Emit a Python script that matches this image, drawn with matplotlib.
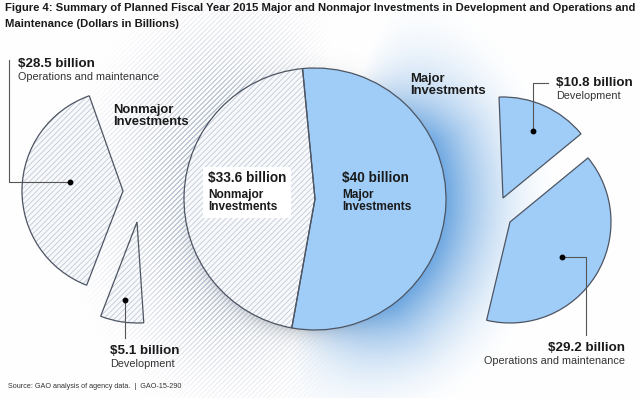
import numpy as np
import matplotlib
matplotlib.use("Agg")
import matplotlib.pyplot as plt
from matplotlib.patches import Wedge, Rectangle

# data (billions of dollars)
groups = ["Nonmajor\nInvestments", "Major\nInvestments"]
group_totals = [33.6, 40.0]
nonmajor_labels = ["Operations and maintenance", "Development"]
nonmajor_values = [28.5, 5.1]
major_labels = ["Development", "Operations and maintenance"]
major_values = [10.8, 29.2]

TITLE = ("Figure 4: Summary of Planned Fiscal Year 2015 Major and Nonmajor Investments in Development and Operations and\n"
         "Maintenance (Dollars in Billions)")
SOURCE = "Source: GAO analysis of agency data.  |  GAO-15-290"

W, H = 640, 398
BLUE = "#9fcdf8"
EDGE = "#4d5563"
HATCH_BG = "#f8f9fb"
HATCH_COL = "#bcc5d6"
plt.rcParams["hatch.linewidth"] = 0.55
plt.rcParams["font.family"] = ["Liberation Sans", "DejaVu Sans"]

fig = plt.figure(figsize=(W / 100, H / 100), dpi=100)
ax = fig.add_axes([0, 0, 1, 1])
ax.set_xlim(0, W)
ax.set_ylim(H, 0)
ax.axis("off")

total = sum(group_totals)


def span(v):
    return v / total * 360.0


def wedge(center, r, a1, a2, hatched):
    # angles in screen degrees (counter-clockwise), y axis is flipped
    t1, t2 = -a2, -a1
    if hatched:
        ax.add_patch(Wedge(center, r, t1, t2, facecolor=HATCH_BG, edgecolor=HATCH_COL,
                           hatch="//////", lw=0, zorder=2))
        ax.add_patch(Wedge(center, r, t1, t2, facecolor="none", edgecolor=EDGE, lw=0.9, zorder=3))
    else:
        ax.add_patch(Wedge(center, r, t1, t2, facecolor=BLUE, edgecolor=EDGE, lw=0.9, zorder=3))


def point_on(center, r, ang):
    a = np.radians(ang)
    return center[0] + r * np.cos(a), center[1] - r * np.sin(a)


# glow / shadow background behind the main pie
cx, cy, R = 315, 199, 131
yy, xx = np.mgrid[0:H, 0:W] + 0.5
dx, dy = xx - cx, yy - cy
d = np.hypot(dx, dy)
e = np.clip(d - R, 0, None)
phi = np.arctan2(-dy, dx)
img = np.ones((H, W, 3))

# soft grey shadow hugging the pie, heavier underneath
ws = 0.15 + 0.6 * np.clip(-np.sin(phi), 0, 1)
isd = np.exp(-e / 9) * ws * 0.45
img = img * (1 - isd[..., None]) + np.array([0.40, 0.42, 0.46]) * isd[..., None]

# blue glow on the right
wb = np.clip(np.cos(phi + 0.25) * 1.5 - 0.15, 0, 1)
ib = np.clip(1 - e / 120, 0, 1) ** 2.0 * wb * 0.95
blue = np.array([105, 165, 225]) / 255
img = img * (1 - ib[..., None]) + blue * ib[..., None]

# hatched halo on the left
wh = np.clip(-np.cos(phi) * 1.3 + 0.15, 0, 1)
ih = np.clip(1 - e / 130, 0, 1) ** 1.3 * wh
stripe = (((xx + yy) % 5.0) < 1.4).astype(float)
hc = np.array([168, 180, 200]) / 255
k = (ih * stripe * 0.8)[..., None]
img = img * (1 - k) + hc * k
ax.imshow(img, extent=(0, W, H, 0), zorder=0, interpolation="bilinear")

# main pie
major_start = -100.2
wedge((cx, cy), R, major_start, major_start + span(group_totals[1]), hatched=False)
wedge((cx, cy), R, major_start + span(group_totals[1]), major_start + 360, hatched=True)

# exploded nonmajor pieces (left)
left_centers = [(123, 191), (137, 222)]
left_start = 109.5
a = left_start
left_angles = []
for c, v in zip(left_centers, nonmajor_values):
    wedge(c, 101, a, a + span(v), hatched=True)
    left_angles.append((a, a + span(v)))
    a += span(v)

# exploded major pieces (right)
right_centers = [(503, 198), (510, 222)]
om_start = -103.4
om_end = om_start + span(major_values[1])
right_angles = [(om_end, om_end + span(major_values[0])), (om_start, om_end)]
for c, (a1, a2) in zip(right_centers, right_angles):
    wedge(c, 101, a1, a2, hatched=False)

LC = "#555555"
# leader dots and lines
p_om = point_on(left_centers[0], 101 * 0.53, 170)
p_dev = point_on(left_centers[1], 101 * 0.78, sum(left_angles[1]) / 2)
q_dev = point_on(right_centers[0], 101 * 0.73, sum(right_angles[0]) / 2)
q_om = point_on(right_centers[1], 101 * 0.62, -34)

ax.plot([p_om[0], 9, 9], [p_om[1], p_om[1], 60], color=LC, lw=0.8, zorder=4)
ax.plot([p_dev[0], p_dev[0]], [p_dev[1], 338], color=LC, lw=0.8, zorder=4)
ax.plot([q_dev[0], q_dev[0], 548], [q_dev[1], 83, 83], color=LC, lw=0.8, zorder=4)
ax.plot([q_om[0], 586, 586], [q_om[1], q_om[1], 335], color=LC, lw=0.8, zorder=4)
for p in [p_om, p_dev, q_dev, q_om]:
    ax.plot(p[0], p[1], "o", color="black", ms=3.2, zorder=5)

# title and source
ax.text(5, 3, TITLE, fontsize=8.1, fontweight="bold", va="top", ha="left", color="#1a1a1a",
        linespacing=1.7)
ax.text(8, 387, SOURCE, fontsize=5.2, va="center", ha="left", color="#333333")

TXT = "#1a1a1a"


def value_label(x, y, v, sub, ha="left"):
    ax.text(x, y, f"${v:g} billion", fontsize=9.6, fontweight="bold", va="top", ha=ha, color=TXT, zorder=6)
    ax.text(x, y + 14, sub, fontsize=7.8, va="top", ha=ha, color="#333333", zorder=6)


value_label(18, 58, nonmajor_values[0], nonmajor_labels[0])
value_label(110, 345, nonmajor_values[1], nonmajor_labels[1])
value_label(556, 77, major_values[0], major_labels[0])
value_label(625, 342, major_values[1], major_labels[1], ha="right")

# group labels
ax.text(113, 104, groups[0], fontsize=9.4, fontweight="bold", va="top", color=TXT, linespacing=0.95, zorder=6)
ax.text(410, 73, groups[1], fontsize=9.4, fontweight="bold", va="top", color=TXT, linespacing=0.95, zorder=6)

# labels inside the main pie
ax.add_patch(Rectangle((203, 167), 88, 51, facecolor="white", edgecolor="none", zorder=5))
ax.text(208, 171, f"${group_totals[0]:g} billion", fontsize=9.8, fontweight="bold", va="top", color=TXT, zorder=6)
ax.text(208, 189, groups[0], fontsize=8.6, fontweight="bold", va="top", color=TXT, linespacing=1.0, zorder=6)
ax.text(342, 171, f"${group_totals[1]:g} billion", fontsize=9.8, fontweight="bold", va="top", color=TXT, zorder=6)
ax.text(342, 189, groups[1], fontsize=8.6, fontweight="bold", va="top", color=TXT, linespacing=1.0, zorder=6)

fig.savefig("out.png", dpi=100, facecolor="white")
